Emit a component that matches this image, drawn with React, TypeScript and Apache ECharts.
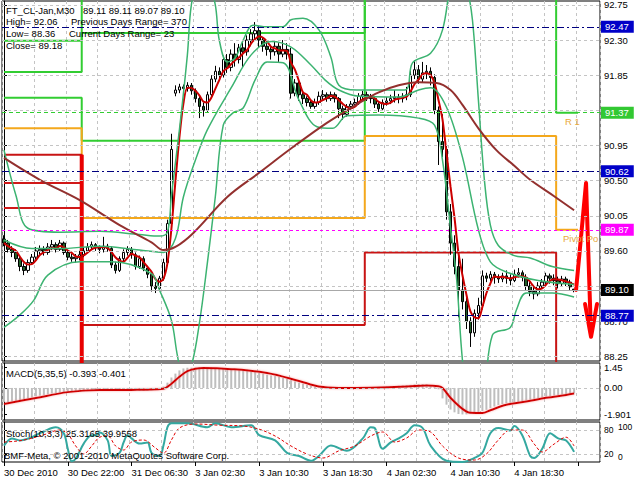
import React, { useEffect, useRef } from "react";
import * as echarts from "echarts";

// ---------- texts ----------
const symbolTitle = "FT_CL-Jan,M30";
const lastBarText = "89.11 89.11 89.07 89.10";
const infoLeft = ["High= 92.06", "Low= 88.36", "Close= 89.18"];
const infoRight = ["Previous Days Range= 370", "Current Days Range= 23"];
const macdTitle = "MACD(5,35,5) -0.393 -0.401";
const stochTitle = "Stoch(10,3,3) 25.3165 39.9558";
const copyright = "BMF-Meta, \u00A9 2001-2010 MetaQuotes Software Corp.";
const r1Text = "R 1";
const pivotText = "Pivot Point";

// ---------- x axis ----------
const timeLabels = [
  "30 Dec 2010", "30 Dec 22:00", "31 Dec 06:30", "3 Jan 02:30", "3 Jan 10:30",
  "3 Jan 18:30", "4 Jan 02:30", "4 Jan 10:30", "4 Jan 18:30",
];
const LABEL_STEP = 16;
const SLOTS = 150;

// ---------- candles: [open, close, low, high] ----------
const candles = [
  [89.75, 89.70, 89.66, 89.80], [89.70, 89.62, 89.58, 89.74], [89.62, 89.58, 89.52, 89.66], [89.58, 89.50, 89.46, 89.62],
  [89.50, 89.40, 89.34, 89.53], [89.40, 89.35, 89.29, 89.44], [89.35, 89.45, 89.32, 89.49], [89.45, 89.52, 89.42, 89.56],
  [89.52, 89.60, 89.49, 89.65], [89.60, 89.62, 89.55, 89.67], [89.62, 89.58, 89.54, 89.66], [89.58, 89.65, 89.55, 89.70],
  [89.65, 89.68, 89.61, 89.74], [89.68, 89.62, 89.58, 89.71], [89.62, 89.70, 89.60, 89.74], [89.70, 89.58, 89.55, 89.72],
  [89.58, 89.52, 89.48, 89.61], [89.52, 89.50, 89.46, 89.56], [89.50, 89.52, 89.45, 89.56], [89.52, 89.55, 89.48, 89.60],
  [89.55, 89.60, 89.52, 89.64], [89.60, 89.65, 89.57, 89.70], [89.65, 89.68, 89.62, 89.72], [89.68, 89.64, 89.60, 89.70],
  [89.64, 89.62, 89.57, 89.67], [89.62, 89.66, 89.58, 89.78], [89.66, 89.63, 89.59, 89.69], [89.63, 89.42, 89.38, 89.66],
  [89.42, 89.35, 89.31, 89.46], [89.35, 89.50, 89.33, 89.53], [89.50, 89.58, 89.47, 89.62], [89.58, 89.62, 89.54, 89.66],
  [89.62, 89.55, 89.50, 89.65], [89.55, 89.40, 89.36, 89.58], [89.40, 89.50, 89.37, 89.54], [89.50, 89.38, 89.34, 89.53],
  [89.38, 89.30, 89.25, 89.41], [89.30, 89.15, 89.08, 89.33], [89.15, 89.12, 89.06, 89.20], [89.12, 89.25, 89.10, 89.28],
  [89.25, 89.45, 89.22, 89.50], [89.45, 89.95, 89.42, 90.00], [89.95, 90.90, 89.90, 91.10], [91.62, 91.66, 91.58, 91.72],
  [91.66, 91.70, 91.62, 91.74], [91.70, 91.68, 91.63, 91.73], [91.68, 91.72, 91.64, 91.76], [91.72, 91.65, 91.60, 91.75],
  [91.65, 91.55, 91.50, 91.68], [91.55, 91.45, 91.30, 91.58], [91.45, 91.40, 91.32, 91.50], [91.40, 91.60, 91.38, 91.64],
  [91.60, 91.80, 91.56, 91.85], [91.80, 91.90, 91.76, 91.97], [91.90, 91.85, 91.78, 91.95], [91.85, 92.05, 91.82, 92.10],
  [92.05, 91.95, 91.88, 92.12], [91.95, 92.12, 91.90, 92.18], [92.12, 92.05, 91.96, 92.26], [92.05, 92.20, 92.00, 92.25],
  [92.20, 92.15, 91.95, 92.28], [92.15, 92.30, 92.10, 92.36], [92.30, 92.38, 92.22, 92.44], [92.38, 92.42, 92.30, 92.53],
  [92.42, 92.30, 92.20, 92.48], [92.30, 92.22, 92.15, 92.34], [92.22, 92.18, 92.10, 92.28], [92.18, 92.15, 92.05, 92.24],
  [92.15, 92.22, 92.10, 92.28], [92.22, 92.12, 92.02, 92.26], [92.12, 92.18, 92.08, 92.30], [92.18, 92.12, 92.05, 92.26],
  [92.12, 91.62, 91.55, 92.20], [91.62, 91.75, 91.58, 91.80], [91.75, 91.60, 91.52, 91.78], [91.60, 91.55, 91.48, 91.64],
  [91.55, 91.50, 91.45, 91.58], [91.50, 91.45, 91.42, 91.54], [91.45, 91.50, 91.42, 91.55], [91.50, 91.58, 91.47, 91.64],
  [91.58, 91.60, 91.54, 91.66], [91.60, 91.55, 91.51, 91.63], [91.55, 91.60, 91.52, 91.64], [91.60, 91.55, 91.50, 91.63],
  [91.55, 91.42, 91.30, 91.57], [91.42, 91.35, 91.28, 91.46], [91.35, 91.45, 91.32, 91.48], [91.45, 91.48, 91.41, 91.52],
  [91.48, 91.50, 91.44, 91.55], [91.50, 91.58, 91.47, 91.62], [91.58, 91.60, 91.53, 91.65], [91.60, 91.58, 91.52, 91.64],
  [91.58, 91.55, 91.49, 91.61], [91.55, 91.48, 91.43, 91.58], [91.48, 91.42, 91.38, 91.52], [91.42, 91.50, 91.40, 91.54],
  [91.50, 91.52, 91.46, 91.57], [91.52, 91.55, 91.48, 91.60], [91.55, 91.57, 91.50, 91.66], [91.57, 91.55, 91.49, 91.61],
  [91.55, 91.58, 91.50, 91.62], [91.58, 91.60, 91.53, 91.70], [91.60, 91.85, 91.57, 91.92], [91.85, 91.92, 91.80, 92.04],
  [91.92, 91.80, 91.74, 91.98], [91.80, 91.88, 91.76, 92.02], [91.88, 91.90, 91.80, 91.98], [91.90, 91.82, 91.72, 91.95],
  [91.82, 91.40, 91.35, 91.86], [91.40, 91.00, 90.70, 91.45], [91.00, 90.90, 90.80, 91.35], [90.90, 90.10, 90.00, 90.95],
  [90.10, 89.70, 89.55, 90.20], [89.70, 89.40, 89.30, 89.80], [89.40, 89.10, 88.75, 89.55], [89.10, 88.95, 88.85, 89.50],
  [88.95, 88.70, 88.60, 89.00], [88.70, 88.55, 88.37, 88.75], [88.55, 88.80, 88.50, 88.85], [88.80, 88.90, 88.72, 89.00],
  [88.90, 89.28, 88.85, 89.35], [89.28, 89.25, 89.20, 89.32], [89.25, 89.30, 89.21, 89.34], [89.30, 89.26, 89.18, 89.33],
  [89.26, 89.24, 89.19, 89.30], [89.24, 89.28, 89.20, 89.32], [89.28, 89.25, 89.18, 89.35], [89.25, 89.22, 89.16, 89.30],
  [89.22, 89.30, 89.20, 89.36], [89.30, 89.32, 89.26, 89.38], [89.32, 89.26, 89.21, 89.35], [89.26, 89.15, 89.10, 89.30],
  [89.15, 89.08, 89.02, 89.20], [89.08, 89.05, 88.98, 89.14], [89.05, 89.15, 89.02, 89.20], [89.15, 89.20, 89.12, 89.24],
  [89.20, 89.28, 89.16, 89.32], [89.28, 89.25, 89.18, 89.31], [89.25, 89.22, 89.16, 89.30], [89.22, 89.18, 89.12, 89.27],
  [89.18, 89.24, 89.14, 89.28], [89.24, 89.20, 89.15, 89.27], [89.20, 89.14, 89.10, 89.23], [89.11, 89.10, 89.07, 89.11],
];

// ---------- price axis ----------
const priceMin = 88.19;
const priceMax = 92.8;
const priceGrid = [88.25, 88.7, 89.15, 89.6, 90.05, 90.5, 90.95, 91.4, 91.85, 92.3, 92.75];
// 91.40 and 89.15 sit under the 91.37 / 89.10 badges in the reference, so no label is printed there
const priceLabels = [88.25, 88.7, 89.6, 90.05, 90.5, 90.95, 91.85, 92.3, 92.75];

// ---------- daily pivot levels (per day segment) ----------
const pivotDayStarts = [0, 20, 91, 139];
const pivotLastBar = 144;
const pivotR3 = [92.29, 93.8, 94.5, 94.5];
const pivotR2 = [91.89, 92.39, 94.0, 93.6];
const pivotR1 = [91.56, 91.01, 93.2, 91.37];
const pivotP = [91.17, 90.02, 91.07, 89.87];
const pivotS1 = [90.83, 88.65, 89.58, 87.5];
const pivotS2 = [90.47, 87.6, 87.4, 87.0];
const pivotS3 = [90.15, 87.4, 87.2, 86.8];

// ---------- horizontal levels with right badges ----------
const levelValues = [92.47, 91.37, 90.62, 89.87, 89.1, 88.77];
const levelLineColors = ["#000080", "#32CD32", "#000080", "#FF00FF", "#A8A8A8", "#000080"];
const levelBadgeColors = ["#0000C8", "#32C832", "#0000C8", "#FF00FF", "#000000", "#0000C8"];
const levelLineTypes: any[] = [[7, 3, 2, 3], [4, 3], [7, 3, 2, 3], [3, 3], "solid", [7, 3, 2, 3]];

// ---------- Bollinger-like bands, anchors [bar, price] ----------
const bandUpper = [
  [0, 90.89], [3, 90.31], [6, 89.89], [14, 89.84], [24, 89.85], [34, 89.81], [39, 89.79], [41, 89.84],
  [42, 90.31], [44, 91.15], [46, 92.11], [47, 92.75], [49, 93.13], [51, 93.1], [53, 92.75], [54, 92.3],
  [56, 92.02], [58, 92.07], [60, 92.3], [62.5, 92.49], [66, 92.47], [70, 92.47], [72, 92.56], [75, 92.58],
  [79, 92.43], [82, 92.08], [84, 91.72], [88.5, 91.66], [100.5, 91.66], [102.5, 92.01], [107, 92.13],
  [110, 92.43], [112, 93.01], [114, 93.33], [116, 93.01], [117.5, 92.56], [119, 91.53], [120.5, 90.51],
  [122, 89.93], [124, 89.67], [128, 89.54], [132, 89.51], [137.5, 89.4], [143, 89.35],
];
const bandMiddle = [
  [0, 89.74], [7, 89.63], [14, 89.63], [24, 89.66], [34, 89.61], [40, 89.58], [43, 89.76], [45, 90.29],
  [48, 90.76], [51, 91.15], [57, 91.69], [62, 92.11], [67, 92.28], [72, 92.21], [77, 91.98], [80.5, 91.79],
  [84, 91.66], [89, 91.58], [99, 91.57], [104, 91.66], [107, 91.69], [111, 91.44], [115, 90.8], [119, 89.87],
  [122, 89.46], [126, 89.33], [134, 89.22], [143, 89.17],
];
const bandLower = [
  [0, 88.62], [4, 88.78], [7.5, 88.97], [11, 89.29], [19, 89.46], [27, 89.46], [37, 89.31], [39, 89.1],
  [42, 88.71], [43.5, 88.26], [45, 87.97], [47, 88.13], [49, 88.67], [51, 89.44], [53, 90.29], [55, 91.21],
  [57.5, 91.37], [60, 91.43], [63, 91.79], [66, 92.02], [70, 92.01], [74, 91.53], [78.5, 91.19], [82.5, 91.17],
  [86, 91.33], [94, 91.34], [104, 91.3], [108, 91.21], [110, 90.76], [112, 89.9], [113.5, 89.26], [115, 88.2],
  [117, 87.43], [120, 87.56], [122.5, 88.52], [127, 88.62], [128.5, 88.84], [131, 89.06], [137.5, 89.06], [143, 89.01],
];
const slowMA = [
  [0, 90.79], [9, 90.51], [19, 90.25], [29, 89.93], [37, 89.71], [40, 89.61], [43, 89.65], [47.5, 89.83],
  [56, 90.29], [64, 90.6], [72.5, 90.93], [81, 91.24], [89, 91.49], [94, 91.63], [99, 91.72], [104, 91.76],
  [108.5, 91.75], [112, 91.66], [115, 91.47], [119, 91.17], [123.5, 90.89], [128, 90.69], [132, 90.51],
  [138, 90.3], [143, 90.12],
];
const FAST_MA_PERIOD = 4;

// thick day separator drop of the support lines [bar, price]
const supportDrop = [[19.5, 90.83], [19.5, 87.9]];
// hand-drawn forecast arrow [bar, price]
const arrowStroke = [[143.5, 89.1], [146, 90.47], [147.25, 88.52]];
const arrowHead = [[145.75, 88.92], [147.25, 88.5], [148.75, 88.92]];

// ---------- MACD ----------
const macdMain = [
  -1.0, -1.0, -0.97, -0.93, -0.88, -0.82, -0.75, -0.68,
  -0.6, -0.55, -0.5, -0.45, -0.4, -0.37, -0.34, -0.32, -0.3, -0.29, -0.27, -0.26, -0.24, -0.22, -0.2,
  -0.19, -0.18, -0.17, -0.17, -0.16, -0.16, -0.17, -0.19, -0.18, -0.17, -0.19, -0.21, -0.22, -0.2, -0.17,
  -0.11, -0.04, 0.1,
  0.38, 0.75, 1.03, 1.26, 1.4, 1.45, 1.45,
  1.45, 1.45, 1.44, 1.44, 1.43, 1.43, 1.42, 1.42, 1.41, 1.4,
  1.38, 1.35, 1.32, 1.3, 1.28,
  1.2, 1.1, 1.02, 0.95, 0.9, 0.85, 0.8, 0.72,
  0.65, 0.56, 0.47, 0.38, 0.3, 0.22, 0.15, 0.1, 0.05,
  0.02, 0, -0.02, -0.03, -0.03, -0.02, 0, 0.02, 0.03, 0.02, 0.03, 0.05, 0.06, 0.07, 0.08, 0.08, 0.1,
  0.12, 0.14, 0.16, 0.18,
  0.2, 0.22, 0.25, 0.27, 0.28, 0.26, 0.2, 0.1, -0.1,
  -0.75, -1.2, -1.55, -1.75, -1.87, -1.9, -1.9, -1.87, -1.8, -1.72, -1.65, -1.57, -1.45, -1.33, -1.22,
  -1.15, -1.1, -1.06, -1.03, -1.0, -0.95, -0.9, -0.84, -0.78, -0.72, -0.67, -0.62, -0.58, -0.54, -0.5,
  -0.47, -0.44, -0.41, -0.393,
];
const macdSignal = [
  [0, -1.15], [8, -0.72], [16, -0.3], [24, -0.15], [32, -0.14], [40, -0.05], [42, 0.3], [44, 0.8],
  [46, 1.2], [48, 1.38], [50, 1.43], [57, 1.35], [66, 1.07], [74, 0.5], [79, 0.1], [84, 0.0], [92, 0.02],
  [101, 0.1], [106, 0.18], [109, 0.12], [110, 0.0], [112, -0.7], [115, -1.5], [117, -1.78], [120, -1.8],
  [122, -1.6], [126, -1.2], [131, -0.98], [136, -0.71], [141, -0.5], [143, -0.401],
];
const macdMin = -2.3;
const macdMax = 1.79;
const macdTicks = [1.45, 0, -1.901];
const macdTickTexts = ["1.45", "0.00", "-1.901"];

// ---------- Stochastic ----------
const stochMain = [
  [0, 41], [2, 59], [4, 54], [7, 62], [9, 72], [12, 85], [13, 87], [15, 72], [16, 33], [17, 2], [18, 8],
  [20, 46], [22, 67], [23, 67], [24, 74], [26, 54], [27, 15], [29, 23], [30, 49], [31, 67], [32, 59],
  [34, 46], [36, 49], [37, 23], [39, 15], [40, 41], [41, 87], [42, 97], [46, 97], [51, 87], [53, 97],
  [57, 87], [62, 92], [64, 67], [68, 54], [71, 23], [74, 15], [77, 3], [79, 15], [82, 41], [86, 28],
  [90, 59], [92, 87], [93, 85], [95, 33], [97, 49], [99, 59], [101, 72], [103, 92], [105, 85], [107, 41],
  [111, 3], [115, 0], [118, 10], [120, 23], [122, 72], [124, 85], [127, 79], [128, 90], [130, 67],
  [132, 15], [133, 10], [135, 33], [137, 72], [139, 59], [141, 54], [143, 25.3165],
];
const stochSignal = [
  [0, 50], [3, 52], [6, 57], [10, 68], [14, 80], [16, 70], [18, 40], [20, 20], [22, 40], [24, 62], [26, 65],
  [28, 40], [30, 30], [32, 50], [35, 55], [38, 35], [40, 22], [42, 55], [44, 85], [48, 95], [54, 92],
  [60, 90], [64, 82], [68, 65], [72, 40], [76, 20], [80, 10], [84, 28], [88, 40], [92, 65], [95, 75],
  [98, 50], [101, 60], [104, 80], [107, 75], [110, 40], [114, 10], [118, 5], [121, 20], [124, 55],
  [127, 80], [130, 80], [133, 45], [135, 25], [138, 45], [141, 62], [143, 39.9558],
];
const stochLevels = [20, 80];
const stochBoundTexts = ["100", "0"];

// ---------- helpers ----------
function movingAverage(values: number[], period: number) {
  return values.map((_, i) => {
    const from = Math.max(0, i - period + 1);
    let s = 0;
    for (let k = from; k <= i; k++) s += values[k];
    return +(s / (i - from + 1)).toFixed(4);
  });
}
function stepLevels(levels: number[]) {
  const out: number[] = [];
  for (let i = 0; i <= pivotLastBar; i++) {
    let d = 0;
    for (let k = 0; k < pivotDayStarts.length; k++) if (i >= pivotDayStarts[k]) d = k;
    out.push(levels[d]);
  }
  return out;
}

const FONT = "'Liberation Sans', Arial, sans-serif";
const GRIDC = "#C4C4C4";

export default function App() {
  const ref = useRef<HTMLDivElement>(null);
  useEffect(() => {
    if (!ref.current) return;
    const chart = echarts.init(ref.current, undefined, { renderer: "svg" });
    const closes = candles.map((c) => c[1]);
    const fastMA = movingAverage(closes, FAST_MA_PERIOD);
    const categories = Array.from({ length: SLOTS }, (_, i) => String(i));

    const catAxis = (gridIndex: number, bottom: boolean) => ({
      type: "category",
      gridIndex,
      data: categories,
      boundaryGap: true,
      axisLine: { show: false },
      axisTick: bottom
        ? { show: true, interval: LABEL_STEP - 1, alignWithLabel: true, length: 4, lineStyle: { color: "#000" } }
        : { show: false },
      axisLabel: bottom
        ? {
            show: true,
            interval: LABEL_STEP - 1,
            align: "left",
            margin: 5,
            fontSize: 9.5,
            fontFamily: FONT,
            color: "#000",
            formatter: (_v: string, idx: number) =>
              idx % LABEL_STEP === 0 && timeLabels[idx / LABEL_STEP] ? timeLabels[idx / LABEL_STEP] : "",
          }
        : { show: false },
      splitLine: { show: true, interval: 7, lineStyle: { color: GRIDC, type: [3, 3], width: 1 } },
    });
    const valAxis = (gridIndex: number) => ({ type: "value", gridIndex, min: -0.5, max: SLOTS - 0.5, show: false });

    const lineS = (data: any, color: string, width: number, extra: any = {}) => ({
      type: "line",
      xAxisIndex: 1,
      yAxisIndex: 0,
      data,
      smooth: 0.35,
      symbol: "none",
      silent: true,
      lineStyle: { color, width },
      z: 4,
      ...extra,
    });
    const pivotS = (levels: number[], color: string) => ({
      type: "line",
      xAxisIndex: 0,
      yAxisIndex: 0,
      data: stepLevels(levels),
      step: "middle",
      symbol: "none",
      silent: true,
      lineStyle: { color, width: 2 },
      z: 2,
    });

    const txt = (text: string, x: number, y: number, fill = "#000", extra: any = {}) => ({
      type: "text",
      x,
      y,
      silent: true,
      z: 100,
      style: { text, fill, font: `9.5px ${FONT}`, verticalAlign: "middle", ...extra },
    });

    const option: any = {
      animation: false,
      backgroundColor: "#ffffff",
      textStyle: { fontFamily: FONT },
      grid: [
        { left: 2, top: 1, width: 598, height: 360, show: true, borderColor: "#000", borderWidth: 1, outerBoundsMode: "none" },
        { left: 2, top: 363, width: 598, height: 57, show: true, borderColor: "#000", borderWidth: 1, outerBoundsMode: "none" },
        { left: 2, top: 422, width: 598, height: 40, show: true, borderColor: "#000", borderWidth: 1, outerBoundsMode: "none" },
      ],
      xAxis: [catAxis(0, false), valAxis(0), catAxis(1, false), valAxis(1), catAxis(2, true), valAxis(2)],
      yAxis: [
        {
          type: "value",
          gridIndex: 0,
          position: "right",
          min: priceMin,
          max: priceMax,
          axisLine: { show: true, lineStyle: { color: "#000" } },
          axisTick: { show: true, length: 3, customValues: priceGrid, lineStyle: { color: "#000" } },
          axisLabel: { customValues: priceLabels, formatter: (v: number) => v.toFixed(2), fontSize: 9.5, fontFamily: FONT, color: "#000", margin: 4 },
          splitLine: { show: false },
        },
        {
          type: "value",
          gridIndex: 1,
          position: "right",
          min: macdMin,
          max: macdMax,
          axisLine: { show: true, lineStyle: { color: "#000" } },
          axisTick: { show: true, length: 3, customValues: macdTicks, lineStyle: { color: "#000" } },
          axisLabel: {
            customValues: macdTicks,
            formatter: (v: number) => {
              const k = macdTicks.findIndex((t) => Math.abs(t - v) < 1e-6);
              return k >= 0 ? macdTickTexts[k] : "";
            },
            fontSize: 9.5,
            fontFamily: FONT,
            color: "#000",
            margin: 4,
          },
          splitLine: { show: false },
        },
        {
          type: "value",
          gridIndex: 2,
          position: "right",
          min: 0,
          max: 100,
          axisLine: { show: true, lineStyle: { color: "#000" } },
          axisTick: { show: true, length: 3, customValues: stochLevels, lineStyle: { color: "#000" } },
          axisLabel: { customValues: stochLevels, formatter: (v: number) => String(v), fontSize: 8.5, fontFamily: FONT, color: "#000", margin: 4 },
          splitLine: { show: false },
        },
      ],
      series: [
        // price grid lines
        {
          type: "line",
          xAxisIndex: 1,
          yAxisIndex: 0,
          data: [[-5, 90]],
          symbol: "none",
          silent: true,
          z: 1,
          markLine: {
            silent: true,
            symbol: ["none", "none"],
            label: { show: false },
            lineStyle: { color: GRIDC, type: [3, 3], width: 1 },
            data: priceGrid.map((v) => ({ yAxis: v })),
          },
        },
        // level lines + badges
        {
          type: "line",
          xAxisIndex: 1,
          yAxisIndex: 0,
          data: [[-5, 90]],
          symbol: "none",
          silent: true,
          z: 2,
          markLine: {
            silent: true,
            symbol: ["none", "none"],
            data: levelValues.map((v, k) => ({
              yAxis: v,
              lineStyle: { color: levelLineColors[k], type: levelLineTypes[k], width: 1 },
              label: {
                show: true,
                position: "end",
                distance: 1,
                formatter: v.toFixed(2),
                color: "#fff",
                backgroundColor: levelBadgeColors[k],
                padding: [1, 5, 0, 4],
                lineHeight: 11,
                fontSize: 9.5,
                fontFamily: FONT,
              },
            })),
          },
        },
        // pivots
        pivotS(pivotR3, "#32CD32"),
        pivotS(pivotR2, "#32CD32"),
        pivotS(pivotR1, "#32CD32"),
        pivotS(pivotP, "#F4A81C"),
        pivotS(pivotS1, "#C81414"),
        pivotS(pivotS2, "#D01818"),
        pivotS(pivotS3, "#D01818"),
        lineS(supportDrop, "#E80000", 4, { smooth: false, z: 2 }),
        // candles
        {
          type: "candlestick",
          xAxisIndex: 0,
          yAxisIndex: 0,
          data: candles,
          barWidth: 3,
          silent: true,
          z: 3,
          itemStyle: { color: "#ffffff", color0: "#23602A", borderColor: "#000", borderColor0: "#000", borderWidth: 1 },
        },
        // moving averages and bands
        { type: "line", xAxisIndex: 0, yAxisIndex: 0, data: fastMA, symbol: "none", silent: true, smooth: 0.3, lineStyle: { color: "#CC0000", width: 2 }, z: 4 },
        lineS(bandUpper, "#3CB371", 1.5),
        lineS(bandMiddle, "#3CB371", 1.5),
        lineS(bandLower, "#3CB371", 1.5),
        lineS(slowMA, "#93302E", 2),
        lineS(arrowStroke, "#FF0000", 4, { smooth: false, lineStyle: { color: "#FF0000", width: 4, join: "round", cap: "round" } }),
        lineS(arrowHead, "#FF0000", 4, { smooth: false, lineStyle: { color: "#FF0000", width: 4, join: "round", cap: "round" } }),
        // MACD
        {
          type: "bar",
          xAxisIndex: 2,
          yAxisIndex: 1,
          data: macdMain,
          barWidth: 2,
          silent: true,
          itemStyle: { color: "#BEBEBE" },
          markLine: {
            silent: true,
            symbol: ["none", "none"],
            label: { show: false },
            lineStyle: { color: GRIDC, type: [3, 3], width: 1 },
            data: [{ yAxis: 0 }],
          },
        },
        {
          type: "line",
          xAxisIndex: 3,
          yAxisIndex: 1,
          data: macdSignal,
          smooth: 0.35,
          symbol: "none",
          silent: true,
          lineStyle: { color: "#D00000", width: 2, shadowColor: "rgba(255,120,120,0.6)", shadowBlur: 2 },
          z: 4,
        },
        // Stochastic
        {
          type: "line",
          xAxisIndex: 5,
          yAxisIndex: 2,
          data: stochMain,
          smooth: 0.35,
          symbol: "none",
          silent: true,
          lineStyle: { color: "#34A8A0", width: 2 },
          z: 3,
          markLine: {
            silent: true,
            symbol: ["none", "none"],
            label: { show: false },
            lineStyle: { color: GRIDC, type: [3, 3], width: 1 },
            data: stochLevels.map((v) => ({ yAxis: v })),
          },
        },
        {
          type: "line",
          xAxisIndex: 5,
          yAxisIndex: 2,
          data: stochSignal,
          smooth: 0.35,
          symbol: "none",
          silent: true,
          lineStyle: { color: "#E00000", width: 1, type: [3, 2] },
          z: 4,
        },
      ],
      graphic: [
        txt(symbolTitle, 6, 10),
        txt(lastBarText, 83, 10),
        txt(infoLeft[0], 6, 21),
        txt(infoRight[0], 71, 21),
        txt(infoLeft[1], 6, 33),
        txt(infoRight[1], 69, 33),
        txt(infoLeft[2], 6, 45),
        txt(r1Text, 565, 121, "#E8A838"),
        txt(pivotText, 563, 238, "#E8A838", { width: 37, overflow: "truncate", ellipsis: "" }),
        txt(macdTitle, 6, 373),
        txt(stochTitle, 6, 433),
        txt(copyright, 4, 455),
        txt(stochBoundTexts[0], 618, 427, "#000", { font: `8.5px ${FONT}` }),
        txt(stochBoundTexts[1], 618, 457, "#000", { font: `8.5px ${FONT}` }),
      ],
    };
    chart.setOption(option);
    return () => chart.dispose();
  }, []);
  return (
    <div
      ref={ref}
      style={{ position: "fixed", left: 0, top: 0, width: 640, height: 480, background: "#fff" }}
    />
  );
}
